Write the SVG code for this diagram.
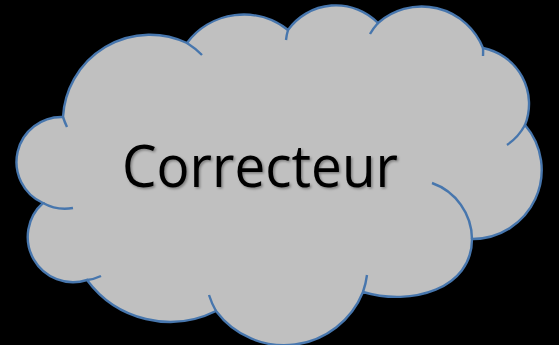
<svg xmlns="http://www.w3.org/2000/svg" width="559" height="345" viewBox="0 0 559 345">
  <style>
    .cloud { fill: #c0c0c0; stroke: #4776ad; stroke-width: 2.4; }
    .tick { fill: none; stroke: #4776ad; stroke-width: 2.4; }
    .label { font-family: "Open Sans", "Liberation Sans", sans-serif; font-size: 59px; fill: #000000; }
  </style>
  <defs>
    <filter id="shadow" x="-10%" y="-20%" width="120%" height="150%">
      <feDropShadow dx="1.5" dy="1.5" stdDeviation="1" flood-color="#000000" flood-opacity="0.35"/>
    </filter>
  </defs>
  <rect x="0" y="0" width="559" height="345" fill="#000000"/>
  <g id="correcteur">
    <path class="cloud" d="M 63,117
      A 87 87 0 0 1 187,43
      A 71 71 0 0 1 288,30
      A 59 59 0 0 1 378,23
      A 66 66 0 0 1 483,48
      A 57 57 0 0 1 525,125
      A 69 69 0 0 1 472,239
      C 472,289 411.6,306.4 363,292
      A 85 85 0 0 1 216,311
      A 103 103 0 0 1 87,280
      A 45.3 45.3 0 0 1 43,203
      A 45 45 0 0 1 63,117 Z"/>
    <path class="tick" d="M 67,127 A 87 87 0 0 1 63,117
      M 187,43 A 87 87 0 0 1 202,55
      M 286,40 A 59 59 0 0 1 288,30
      M 370,34 A 66 66 0 0 1 378,23
      M 483,48 A 66 66 0 0 1 483,56
      M 525,125 A 57 57 0 0 1 507,145
      M 432,183 A 60 60 0 0 1 472,239
      M 367,275 A 85 85 0 0 1 363,292
      M 216,311 A 85 85 0 0 1 209,295
      M 101,276 A 45 45 0 0 1 87,280
      M 73,208 A 45 45 0 0 1 43,203"/>
    <text class="label" x="260" y="187" text-anchor="middle" textLength="276" lengthAdjust="spacingAndGlyphs" filter="url(#shadow)">Correcteur</text>
  </g>
</svg>
